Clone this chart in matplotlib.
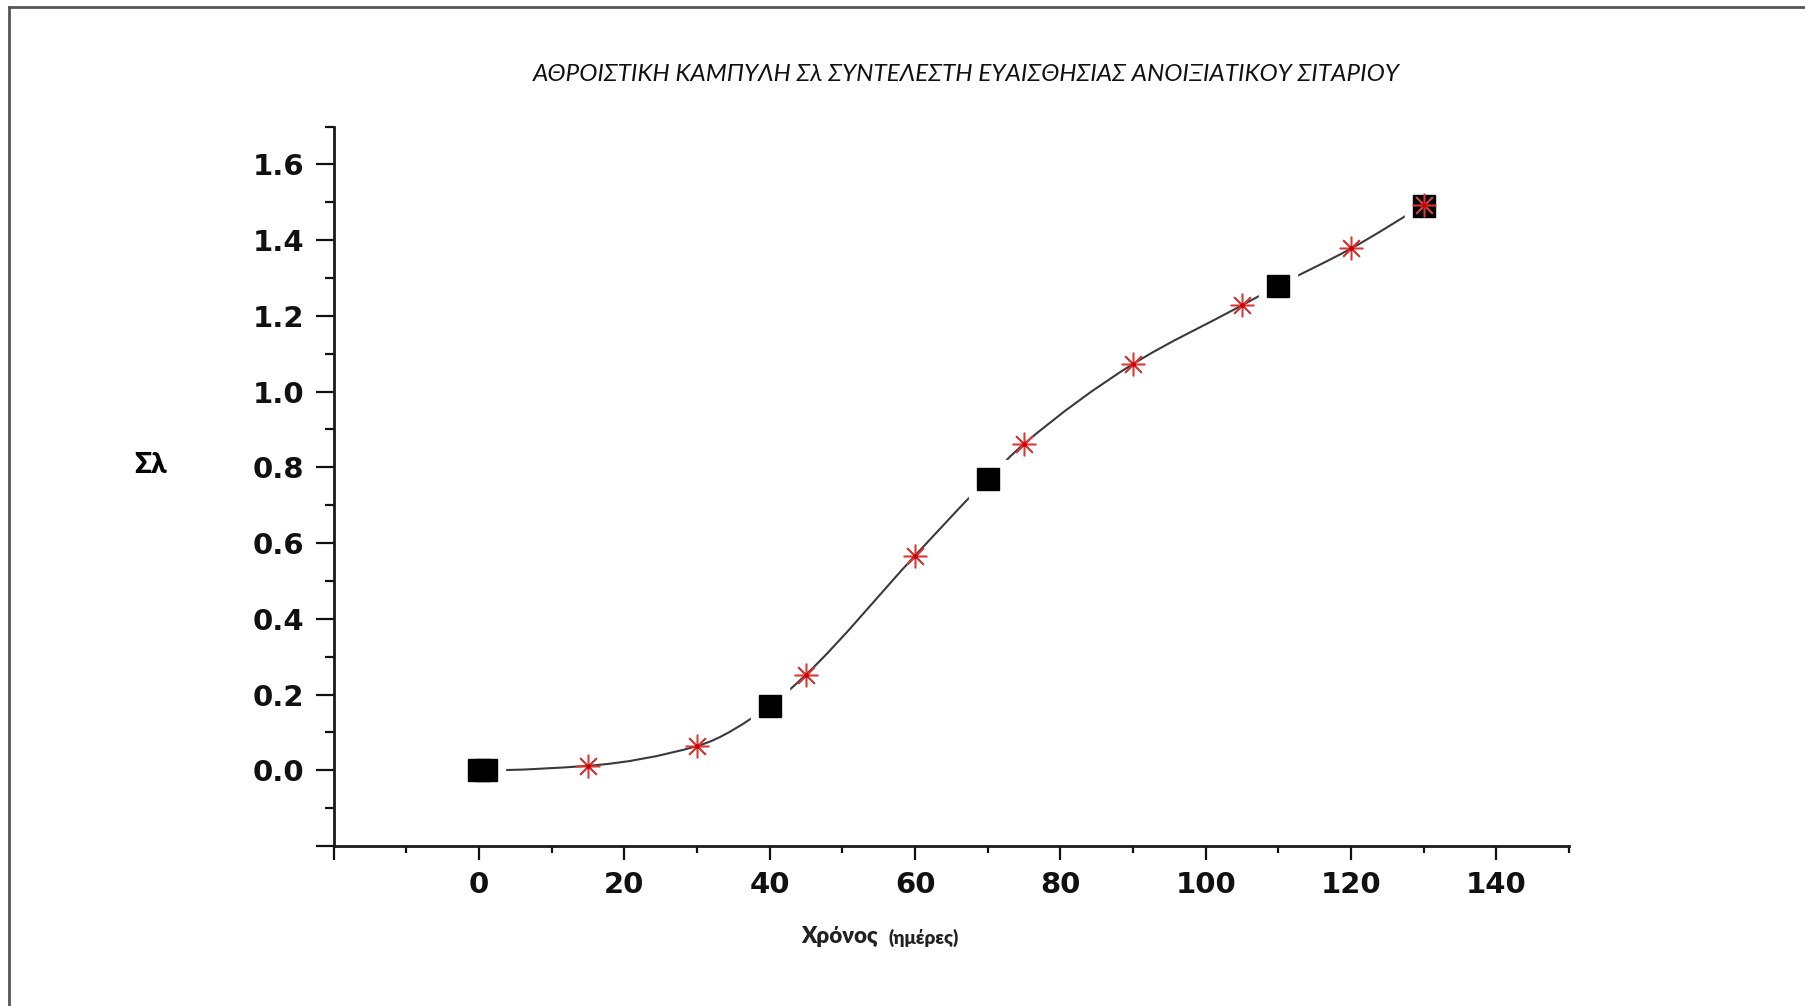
import numpy as np
import matplotlib
matplotlib.use("Agg")
import matplotlib.pyplot as plt
from matplotlib.path import Path
from matplotlib.patches import PathPatch
from matplotlib.lines import Line2D

# measured points (black squares)
sq_days = [0, 1, 40, 70, 110, 130]
sq_vals = [0.0, 0.0, 0.17, 0.77, 1.28, 1.49]

# computed points (red stars)
st_days = [15, 30, 45, 60, 75, 90, 105, 120, 130]
st_vals = [0.012, 0.064, 0.253, 0.567, 0.862, 1.073, 1.228, 1.378, 1.493]

x_major = [-20, 0, 20, 40, 60, 80, 100, 120, 140]
x_labels = ['', '0', '20', '40', '60', '80', '100', '120', '140']
y_major = [-0.2, 0.0, 0.2, 0.4, 0.6, 0.8, 1.0, 1.2, 1.4, 1.6]
y_labels = ['', '0.0', '0.2', '0.4', '0.6', '0.8', '1.0', '1.2', '1.4', '1.6']

title = "ΑΘΡΟΙΣΤΙΚΗ ΚΑΜΠΥΛΗ Σλ ΣΥΝΤΕΛΕΣΤΗ ΕΥΑΙΣΘΗΣΙΑΣ ΑΝΟΙΞΙΑΤΙΚΟΥ ΣΙΤΑΡΙΟΥ"


def pchip_slopes(x, y):
    # Fritsch-Carlson tangents, keeps the curve monotone
    h = np.diff(x)
    d = np.diff(y) / h
    m = np.zeros_like(y)
    for k in range(1, len(x) - 1):
        if d[k - 1] * d[k] <= 0:
            m[k] = 0.0
        else:
            w1 = 2 * h[k] + h[k - 1]
            w2 = h[k] + 2 * h[k - 1]
            m[k] = (w1 + w2) / (w1 / d[k - 1] + w2 / d[k])
    m[0] = d[0]
    m[-1] = d[-1]
    return m


def smooth_path(x, y):
    # cubic hermite segments as bezier curves
    m = pchip_slopes(x, y)
    verts = [(x[0], y[0])]
    codes = [Path.MOVETO]
    for k in range(len(x) - 1):
        h = x[k + 1] - x[k]
        verts += [(x[k] + h / 3, y[k] + m[k] * h / 3),
                  (x[k + 1] - h / 3, y[k + 1] - m[k + 1] * h / 3),
                  (x[k + 1], y[k + 1])]
        codes += [Path.CURVE4] * 3
    return Path(verts, codes)


fig = plt.figure(figsize=(18.05, 10.06), dpi=100)
ax = fig.add_axes([0.1849, 0.159, 0.6844, 0.7152])

# connecting curve through all points
pts = {}
for d, v in zip(sq_days + st_days, sq_vals + st_vals):
    pts[d] = v
xs = np.array(sorted(pts.keys()), dtype=float)
ys = np.array([pts[d] for d in sorted(pts.keys())])
ax.add_patch(PathPatch(smooth_path(xs, ys), facecolor='none',
                       edgecolor='#3a3a3a', lw=1.5, zorder=2))

# white gap around the squares, then the squares, then the stars
ax.plot(sq_days, sq_vals, ls='none', marker='s', ms=28, mfc='white',
        mec='white', zorder=3)
ax.plot(sq_days, sq_vals, ls='none', marker='s', ms=15.5, mfc='black',
        mec='black', zorder=4)
ax.plot(st_days, st_vals, ls='none', marker=(8, 2, 0), ms=17,
        mec='#e03535', mew=1.1, zorder=5)
ax.plot(st_days, st_vals, ls='none', marker='o', ms=3.5,
        mfc='#d00000', mec='none', zorder=6)

ax.set_xlim(-20, 150)
ax.set_ylim(-0.2, 1.7)

for s in ['top', 'right']:
    ax.spines[s].set_visible(False)
for s in ['left', 'bottom']:
    ax.spines[s].set_linewidth(2)
    ax.spines[s].set_color('#1a1a1a')

ax.set_xticks(x_major)
ax.set_xticklabels(x_labels)
ax.set_xticks(np.arange(-10, 151, 20), minor=True)
ax.set_yticks(y_major)
ax.set_yticklabels(y_labels)
ax.set_yticks(np.arange(-0.1, 1.71, 0.2), minor=True)

ax.tick_params(axis='x', which='major', direction='out', length=10,
               width=1.6, pad=8, labelsize=21, colors='#111')
ax.tick_params(axis='x', which='minor', direction='out', length=5,
               width=1.6, colors='#111')
ax.tick_params(axis='y', which='major', direction='out', length=13,
               width=1.6, pad=8, labelsize=21, colors='#111')
ax.tick_params(axis='y', which='minor', direction='out', length=6.5,
               width=1.6, colors='#111')
for lab in ax.get_xticklabels() + ax.get_yticklabels():
    lab.set_fontweight('bold')
    lab.set_family('DejaVu Sans')

# titles and axis labels
fig.text(0.5355, 0.9264, title, ha='center', va='center', fontsize=17.6,
         style='italic', family=['Lato', 'DejaVu Sans'], color='#111')
fig.text(0.0837, 0.5378, "Σλ", ha='center', va='center', fontsize=20,
         fontweight='heavy', family=['Lato', 'DejaVu Sans'])
fig.text(0.4437, 0.0686, "Χρόνος", ha='left', va='center', fontsize=16,
         fontweight='heavy', family=['Lato', 'DejaVu Sans'], color='#222')
fig.text(0.4925, 0.0676, "(ημέρες)", ha='left', va='center', fontsize=13.5,
         fontweight='heavy', family=['Lato', 'DejaVu Sans'], color='#222')

# frame of the screenshot
fig.add_artist(Line2D([9 / 1805, 1], [1 - 7 / 1006, 1 - 7 / 1006],
                      color='#555', lw=2))
fig.add_artist(Line2D([9 / 1805, 9 / 1805], [0, 1 - 7 / 1006],
                      color='#555', lw=2))

fig.savefig('out.png', dpi=100)
